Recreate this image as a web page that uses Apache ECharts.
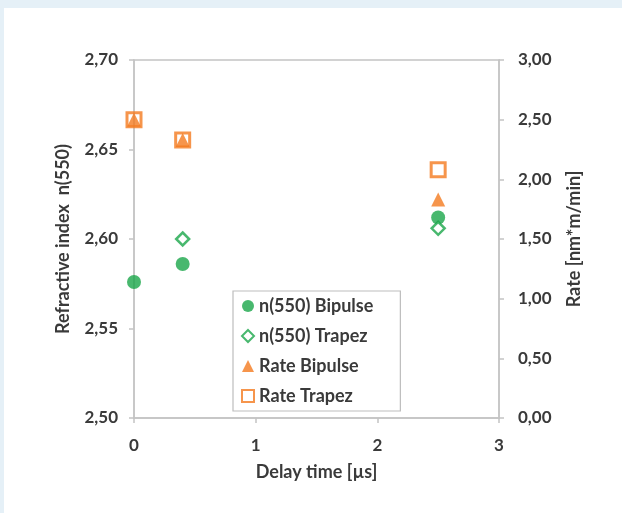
<!DOCTYPE html>
<html>
<head>
<meta charset="utf-8">
<script src="https://cdn.jsdelivr.net/npm/echarts@6/dist/echarts.min.js"></script>
<style>
html,body{margin:0;padding:0;background:#fff;}
#c{width:622px;height:513px;}
</style>
</head>
<body>
<div id="c"></div>
<script>
// Data
const delayTime = [0, 0.4, 2.5];
const nBipulse = [2.576, 2.586, 2.612];
const nTrapez = [null, 2.600, 2.606];
const rateBipulse = [2.50, 2.33, 1.83];
const rateTrapez = [2.50, 2.33, 2.08];
const xTicks = [0, 1, 2, 3];
const leftTicks = [2.50, 2.55, 2.60, 2.65, 2.70];
const rightTicks = [0, 0.5, 1.0, 1.5, 2.0, 2.5, 3.0];

const GREEN = '#1aa64a';
const ORANGE = '#f47b1f';
const TXT = '#3a3a3a';
const AXC = '#c4c4c4';
const FONT = 'Lato';

function pairs(xs, ys){ return xs.map((x,i)=> ys[i]==null ? null : [x, ys[i]]).filter(d=>d); }
function fmt(v){ return v.toFixed(2).replace('.', ','); }

const chart = echarts.init(document.getElementById('c'), null, {renderer:'canvas'});
chart.setOption({
  backgroundColor: '#ffffff',
  animation: false,
  textStyle: {fontFamily: FONT},
  graphic: [
    {type:'rect', left:0, top:0, shape:{width:622, height:8}, style:{fill:'#e5f0f7'}, silent:true},
    {type:'rect', left:0, top:0, shape:{width:4, height:513}, style:{fill:'#e5f0f7'}, silent:true}
  ],
  grid: {left:134, right:123, top:60, bottom:95, show:true, borderColor:AXC, borderWidth:1.5, backgroundColor:'transparent'},
  legend: {
    orient:'vertical', left:233, top:291,
    padding:[5, 27, 5, 8], itemGap:10, itemWidth:12, itemHeight:12,
    borderColor:'#bdbdbd', borderWidth:1.2, backgroundColor:'#fff',
    textStyle:{fontFamily:FONT, fontSize:18, fontWeight:'bold', color:TXT, lineHeight:20},
    data:['n(550) Bipulse','n(550) Trapez','Rate Bipulse','Rate Trapez']
  },
  xAxis: {
    type:'value', min:0, max:3, interval:1,
    name:'Delay time [µs]', nameLocation:'middle', nameGap:45,
    nameTextStyle:{fontFamily:FONT, fontSize:18, fontWeight:'bold', color:TXT},
    axisLine:{show:true, lineStyle:{color:AXC, width:1.5}},
    axisTick:{show:true, length:5, lineStyle:{color:AXC, width:1.5}},
    splitLine:{show:false},
    axisLabel:{margin:19, fontFamily:FONT, fontSize:17, fontWeight:'bold', color:TXT,
      formatter:v=> xTicks.includes(v) ? String(v) : ''}
  },
  yAxis: [
    {
      type:'value', position:'left', min:2.5, max:2.7, interval:0.05,
      name:'Refractive index  n(550)', nameLocation:'middle', nameGap:62, nameRotate:90,
      nameTextStyle:{fontFamily:FONT, fontSize:18, fontWeight:'bold', color:TXT},
      axisLine:{show:true, lineStyle:{color:AXC, width:1.5}},
      axisTick:{show:true, length:5, lineStyle:{color:AXC, width:1.5}},
      splitLine:{show:false},
      axisLabel:{margin:16, fontFamily:FONT, fontSize:17, fontWeight:'bold', color:TXT,
        formatter:v=>fmt(v)}
    },
    {
      type:'value', position:'right', min:0, max:3, interval:0.5,
      name:'Rate [nm*m/min]', nameLocation:'middle', nameGap:66, nameRotate:90,
      nameTextStyle:{fontFamily:FONT, fontSize:18, fontWeight:'bold', color:TXT},
      axisLine:{show:true, lineStyle:{color:AXC, width:1.5}},
      axisTick:{show:true, length:5, lineStyle:{color:AXC, width:1.5}},
      splitLine:{show:false},
      axisLabel:{margin:19, fontFamily:FONT, fontSize:17, fontWeight:'bold', color:TXT,
        formatter:v=>fmt(v)}
    }
  ],
  series: [
    {name:'Rate Bipulse', type:'scatter', yAxisIndex:1, symbol:'triangle', symbolSize:[14,14], z:2,
      itemStyle:{color:ORANGE}, data:pairs(delayTime, rateBipulse)},
    {name:'Rate Trapez', type:'scatter', yAxisIndex:1, symbol:'rect', symbolSize:14, z:3,
      itemStyle:{color:'rgba(255,255,255,0)', borderColor:ORANGE, borderWidth:3}, data:pairs(delayTime, rateTrapez)},
    {name:'n(550) Bipulse', type:'scatter', yAxisIndex:0, symbol:'circle', symbolSize:14, z:4,
      itemStyle:{color:GREEN}, data:pairs(delayTime, nBipulse)},
    {name:'n(550) Trapez', type:'scatter', yAxisIndex:0, symbol:'diamond', symbolSize:13, z:5,
      itemStyle:{color:'#ffffff', borderColor:GREEN, borderWidth:2.5}, data:pairs(delayTime, nTrapez)}
  ]
});
</script>
</body>
</html>
